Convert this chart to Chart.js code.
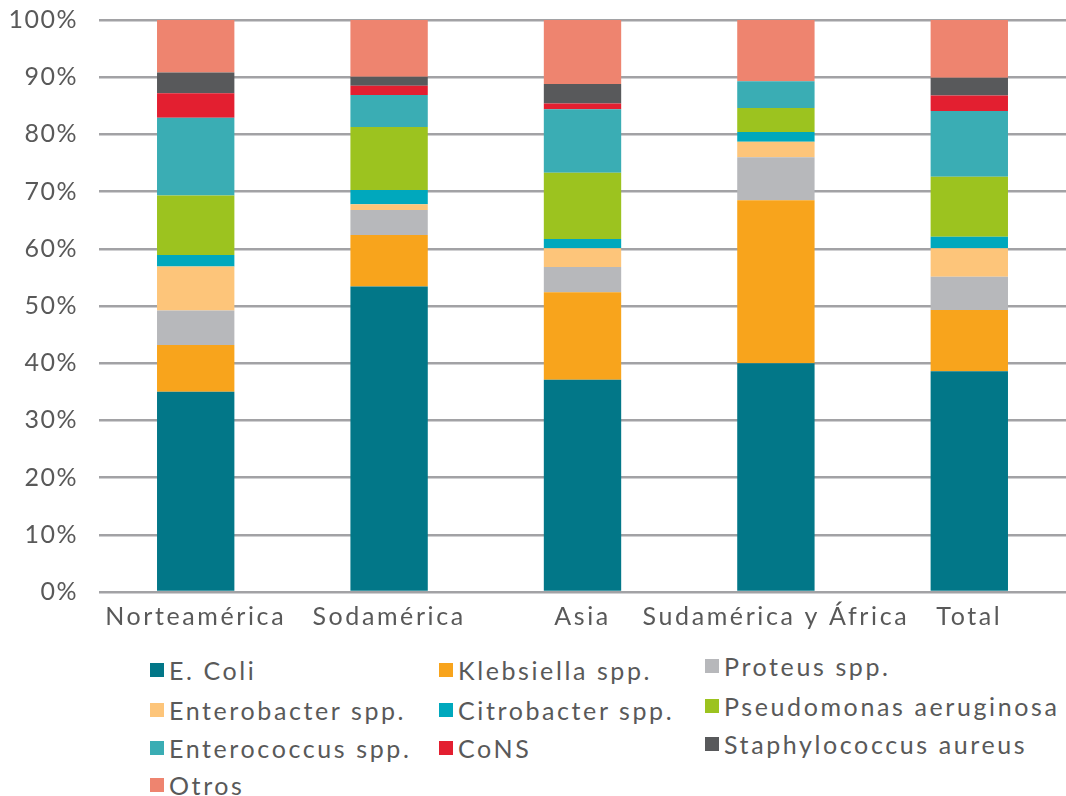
<!DOCTYPE html>
<html>
<head>
<meta charset="utf-8">
<script src="https://cdn.jsdelivr.net/npm/chart.js@4/dist/chart.umd.min.js"></script>
<style>
  html, body { margin: 0; padding: 0; background: #ffffff; }
  #wrap { position: relative; width: 1066px; height: 796px; overflow: hidden; }
  #chartBox { position: absolute; left: 0; top: 0; width: 1066px; height: 645px; }
  .lg { position: absolute; display: flex; align-items: center; white-space: nowrap;
        font-family: Lato, sans-serif; font-size: 25px; color: #595959; line-height: 1;
        letter-spacing: 2.6px; }
  .lg span.sw { display: inline-block; width: 14px; height: 14px; margin-right: 5px; }
</style>
</head>
<body>
<div id="wrap">
  <div id="chartBox"><canvas id="c"></canvas></div>
  <div id="legend"></div>
</div>
<script>
const categories = ['Norteamérica', 'Sodamérica', 'Asia', 'Sudamérica y África', 'Total'];
const yTicks = [0, 10, 20, 30, 40, 50, 60, 70, 80, 90, 100];

const eColi        = [35.0, 53.4, 37.1, 40.0, 38.6];
const klebsiella   = [8.2, 9.0, 15.3, 28.5, 10.7];
const proteus      = [6.0, 4.4, 4.4, 7.5, 5.8];
const enterobacter = [7.7, 1.0, 3.3, 2.7, 5.0];
const citrobacter  = [2.0, 2.5, 1.6, 1.7, 2.0];
const pseudomonas  = [10.4, 11.0, 11.6, 4.2, 10.5];
const enterococcus = [13.6, 5.6, 11.1, 4.7, 11.5];
const cons         = [4.3, 1.6, 1.0, 0, 2.7];
const staph        = [3.6, 1.6, 3.4, 0, 3.1];
const otros        = [9.2, 9.9, 11.2, 10.7, 10.1];

const seriesLabels = ['E. Coli', 'Klebsiella spp.', 'Proteus spp.', 'Enterobacter spp.',
  'Citrobacter spp.', 'Pseudomonas aeruginosa', 'Enterococcus spp.', 'CoNS',
  'Staphylococcus aureus', 'Otros'];
const seriesData = [eColi, klebsiella, proteus, enterobacter, citrobacter,
  pseudomonas, enterococcus, cons, staph, otros];
const seriesColors = ['#027788', '#F8A41C', '#B7B8BB', '#FDC57A', '#00A8BD',
  '#9CC31F', '#3AADB4', '#E31F30', '#58595B', '#EE846F'];

const datasets = seriesLabels.map((l, i) => ({
  label: l,
  data: seriesData[i],
  backgroundColor: seriesColors[i],
  borderWidth: 0,
  categoryPercentage: 1.0,
  barPercentage: 0.4
}));

const fontFam = 'Lato, sans-serif';

function spaced(scale, spacing) {
  const proto = Object.getPrototypeOf(scale);
  scale.drawLabels = function (area) {
    const ctx = this.ctx;
    const prev = ctx.letterSpacing;
    ctx.letterSpacing = spacing;
    proto.drawLabels.call(this, area);
    ctx.letterSpacing = prev || '0px';
  };
}

new Chart(document.getElementById('c'), {
  type: 'bar',
  data: { labels: categories, datasets: datasets },
  options: {
    responsive: true,
    maintainAspectRatio: false,
    animation: false,
    layout: { padding: { top: 20, right: 0, bottom: 11, left: 0 } },
    plugins: { legend: { display: false }, tooltip: { enabled: false } },
    scales: {
      x: {
        stacked: true,
        afterFit: (s) => { spaced(s, '2.6px'); },
        grid: { display: false },
        border: { display: false },
        ticks: { color: '#595959', font: { family: fontFam, size: 25 }, padding: 2, maxRotation: 0, autoSkip: false }
      },
      y: {
        stacked: true,
        min: 0, max: 100,
        afterFit: (s) => { s.width = 99; s.paddingTop = 15; s.paddingBottom = 15; spaced(s, '1.5px'); },
        afterBuildTicks: (s) => { s.ticks = yTicks.map(v => ({ value: v })); },
        grid: { color: '#A2A2A5', lineWidth: 2.5, drawTicks: false },
        border: { display: false },
        ticks: { color: '#595959', font: { family: fontFam, size: 25 }, padding: 21,
                 callback: (v) => v + '%' }
      }
    }
  }
});

// HTML legend, 3 columns
const colX = [150, 439, 705];
const rowY = [[670, 710, 748, 785], [670, 710, 748, 785], [666, 706, 744, 782]];
const legend = document.getElementById('legend');
seriesLabels.forEach((l, i) => {
  const col = i % 3, row = Math.floor(i / 3);
  const d = document.createElement('div');
  d.className = 'lg';
  d.style.left = colX[col] + 'px';
  d.style.top = (rowY[col][row] - 15) + 'px';
  d.style.height = '30px';
  d.innerHTML = '<span class="sw" style="background:' + seriesColors[i] + '"></span>' + l;
  legend.appendChild(d);
});
</script>
</body>
</html>
